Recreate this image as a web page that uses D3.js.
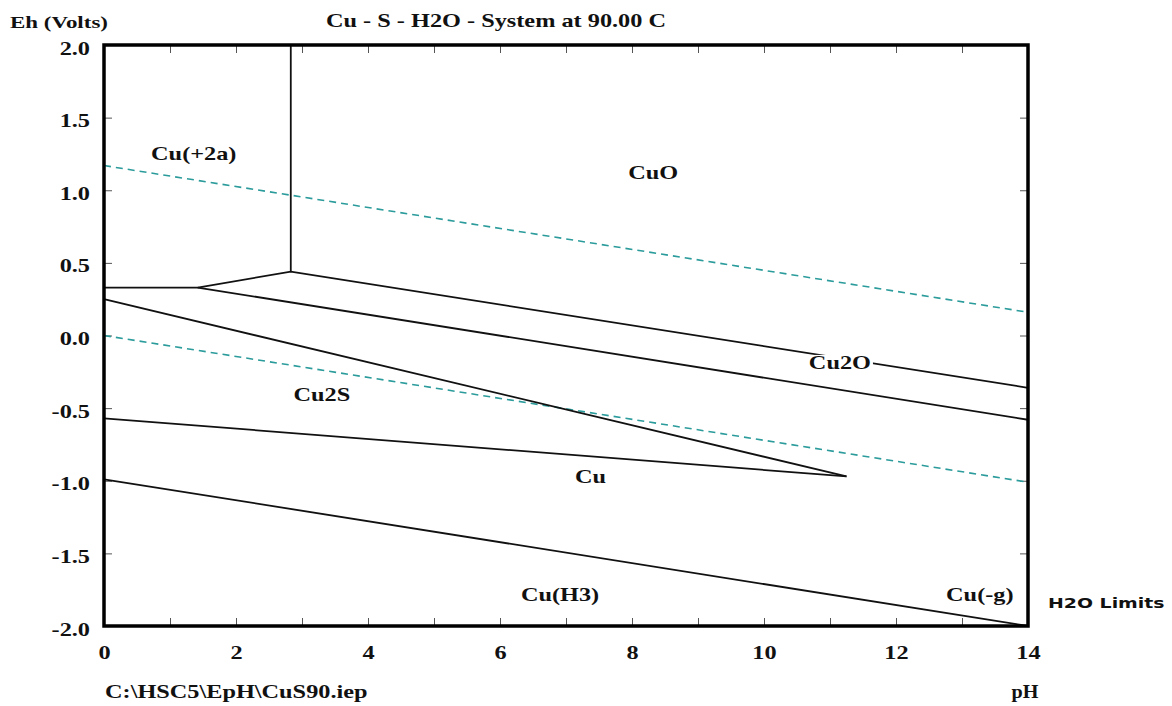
<!DOCTYPE html>
<html>
<head>
<meta charset="utf-8">
<title>Cu - S - H2O - System at 90.00 C</title>
<script src="https://cdn.jsdelivr.net/npm/d3@7"></script>
<style>
body{margin:0;background:#fff;}
svg text{font-family:"Times New Roman","Liberation Serif",serif;font-weight:bold;fill:#111;font-size:18px;}
</style>
</head>
<body>
<div id="chart"></div>
<script>
var W=1172,H=706;
var left=104,right=1028,top_=45,bottom=626;
var sx=1.35; // the original picture is stretched sideways, so is its text

var phTicks=d3.range(0,15,1);
var ehTicks=[-2,-1.5,-1,-0.5,0,0.5,1,1.5,2];

// stability field boundaries, [pH, Eh]
var lineVert=[[2.83,2.0],[2.83,0.44]];
var lineTop=[[0,0.33],[1.42,0.33],[2.83,0.44],[14,-0.36]];
var lineMid=[[1.42,0.33],[14,-0.58]];
var lineCu2sUp=[[0,0.25],[11.25,-0.97]];
var lineCu2sLow=[[0,-0.57],[11.25,-0.97]];
var lineCuH3=[[0,-0.99],[14,-2.0]];
// water stability limits
var waterUp=[[0,1.17],[14,0.16]];
var waterLow=[[0,0.0],[14,-1.01]];

var fieldNames=["Cu(+2a)","CuO","Cu2O","Cu2S","Cu","Cu(H3)","Cu(-g)"];
var fieldPH=[1.36,8.32,11.15,3.30,7.37,6.91,13.27];
var fieldEh=[1.21,1.08,-0.23,-0.45,-1.015,-1.83,-1.83];

var x=d3.scaleLinear().domain([0,14]).range([left,right]);
var y=d3.scaleLinear().domain([-2,2]).range([bottom,top_]);

var svg=d3.select('#chart').append('svg')
  .attr('width',W).attr('height',H);

function stretched(sel,px,py,anchor){
  return sel.attr('x',0).attr('y',0)
    .attr('text-anchor',anchor||'middle')
    .style('font-family','"Liberation Serif","Times New Roman",serif')
    .attr('transform','translate('+px+','+py+') scale('+sx+',1)');
}

// ticks
function cleanAxis(g){
  g.select('.domain').remove();
  g.selectAll('.tick line').attr('stroke','#555').attr('stroke-width',1);
  g.attr('font-family',null).attr('font-size',null);
}
svg.append('g').attr('transform','translate(0,'+bottom+')')
  .call(d3.axisBottom(x).tickValues(phTicks).tickSize(-8).tickFormat(function(d){return d%2===0?d:'';}))
  .call(cleanAxis)
  .selectAll('.tick text').each(function(){
    stretched(d3.select(this).attr('dy',null),0,33);
  });
svg.append('g').attr('transform','translate(0,'+top_+')')
  .call(d3.axisTop(x).tickValues(phTicks).tickSize(-8).tickFormat(''))
  .call(cleanAxis);
svg.append('g').attr('transform','translate('+left+',0)')
  .call(d3.axisLeft(y).tickValues(ehTicks).tickSize(-8).tickFormat(function(d){return d.toFixed(1);}))
  .call(cleanAxis)
  .selectAll('.tick text').each(function(){
    stretched(d3.select(this).attr('dy',null),-14,9,'end');
  });
svg.append('g').attr('transform','translate('+right+',0)')
  .call(d3.axisRight(y).tickValues(ehTicks).tickSize(-8).tickFormat(''))
  .call(cleanAxis);

var line=d3.line().x(function(d){return x(d[0]);}).y(function(d){return y(d[1]);});

// water limits
[waterUp,waterLow].forEach(function(d){
  svg.append('path').datum(d).attr('d',line)
    .attr('fill','none').attr('stroke','#2b9b9b').attr('stroke-width',1.6)
    .attr('stroke-dasharray','7,5');
});

// boundaries
[lineVert,lineTop,lineMid,lineCu2sUp,lineCu2sLow,lineCuH3].forEach(function(d){
  svg.append('path').datum(d).attr('d',line)
    .attr('fill','none').attr('stroke','#111').attr('stroke-width',1.8);
});

// frame
svg.append('rect').attr('x',left).attr('y',top_)
  .attr('width',right-left).attr('height',bottom-top_)
  .attr('fill','none').attr('stroke','#000').attr('stroke-width',3.5);

// field labels, on a white patch so lines stop at them
fieldNames.forEach(function(n,i){
  var bg=svg.append('rect').attr('fill','#fff');
  var t=stretched(svg.append('text').text(n),x(fieldPH[i]),y(fieldEh[i]));
  var b=t.node().getBBox();
  bg.attr('x',x(fieldPH[i])-b.width*sx/2-2).attr('y',y(fieldEh[i])+b.y+2)
    .attr('width',b.width*sx+4).attr('height',b.height-4);
});

// titles
stretched(svg.append('text').text('Cu - S - H2O - System at 90.00 C'),496,27);
stretched(svg.append('text').text('Eh (Volts)').style('font-size','17px'),10,28,'start');
stretched(svg.append('text').text('C:\\HSC5\\EpH\\CuS90.iep'),105,698,'start');
stretched(svg.append('text').text('pH'),1025,698).attr('transform','translate(1025,698) scale(1.12,1)');
stretched(svg.append('text').text('H2O Limits'),1048,608,'start')
  .style('font-family','"DejaVu Sans",Verdana,sans-serif').style('font-size','14px');
</script>
</body>
</html>
